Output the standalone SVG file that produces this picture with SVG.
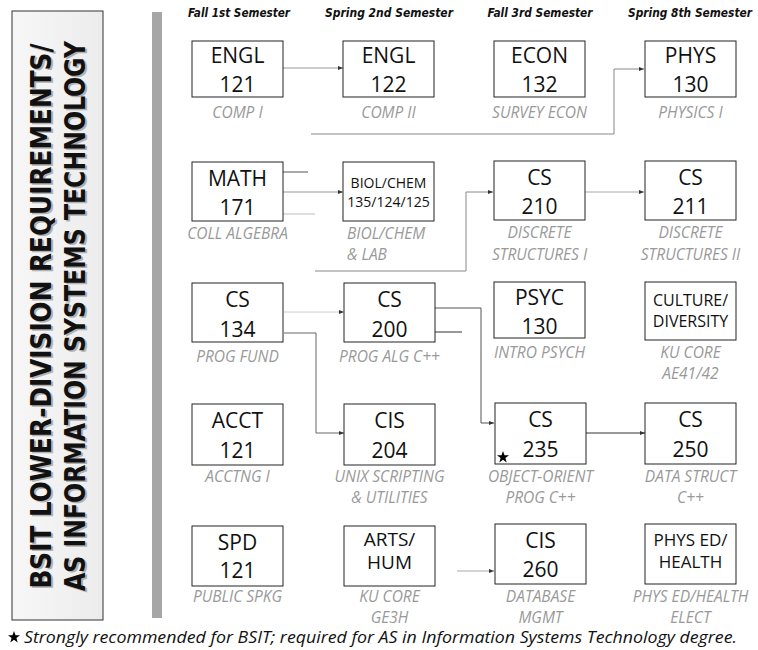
<svg xmlns="http://www.w3.org/2000/svg" width="758" height="650" viewBox="0 0 758 650">
<defs>
<linearGradient id="tg" x1="0" y1="0" x2="1" y2="0">
<stop offset="0" stop-color="#f7f7f7"/><stop offset="1" stop-color="#ececec"/>
</linearGradient>
<marker id="ar" markerWidth="5" markerHeight="4" refX="5" refY="2" orient="auto" markerUnits="userSpaceOnUse">
<path d="M0,0 L5,2 L0,4 Z" fill="#333"/>
</marker>
<style>
.bx{fill:#fff;stroke:#222;stroke-width:1}
.c{font-family:"Open Sans","Noto Sans","Liberation Sans",sans-serif;font-size:21px;fill:#111;text-anchor:middle}
.s{font-family:"Open Sans","Noto Sans","Liberation Sans",sans-serif;font-size:15.5px;font-style:italic;fill:#999;text-anchor:middle}
.h{font-family:"Liberation Sans Narrow","DejaVu Sans Condensed","Liberation Sans",sans-serif;font-size:13px;font-weight:bold;font-style:italic;fill:#111;text-anchor:middle}
.t{font-family:"Liberation Sans Narrow","DejaVu Sans Condensed","Liberation Sans",sans-serif;font-size:29px;font-weight:bold;text-anchor:middle}
.ln{fill:none;stroke-width:1}
</style>
</defs>
<rect width="758" height="650" fill="#fff"/>

<g id="title">
<rect x="12" y="11" width="91" height="609" fill="url(#tg)" stroke="#333" stroke-width="1"/>
<g transform="translate(51,316) rotate(-90)">
<text class="t" x="-1.5" y="2" fill="#888" opacity="0.6" textLength="545" lengthAdjust="spacingAndGlyphs">BSIT LOWER-DIVISION REQUIREMENTS/</text>
<text class="t" x="0" y="0" fill="#111" textLength="545" lengthAdjust="spacingAndGlyphs">BSIT LOWER-DIVISION REQUIREMENTS/</text>
</g>
<g transform="translate(85,316) rotate(-90)">
<text class="t" x="-1.5" y="2" fill="#888" opacity="0.6" textLength="550" lengthAdjust="spacingAndGlyphs">AS INFORMATION SYSTEMS TECHNOLOGY</text>
<text class="t" x="0" y="0" fill="#111" textLength="550" lengthAdjust="spacingAndGlyphs">AS INFORMATION SYSTEMS TECHNOLOGY</text>
</g>
</g>
<rect id="divider" x="152" y="12" width="10" height="606" fill="#a6a6a6"/>

<g id="headers">
<text class="h" x="239" y="17" textLength="102" lengthAdjust="spacingAndGlyphs">Fall 1st Semester</text>
<text class="h" x="389" y="17" textLength="128" lengthAdjust="spacingAndGlyphs">Spring 2nd Semester</text>
<text class="h" x="540" y="17" textLength="105" lengthAdjust="spacingAndGlyphs">Fall 3rd Semester</text>
<text class="h" x="690" y="17" textLength="124" lengthAdjust="spacingAndGlyphs">Spring 8th Semester</text>
</g>

<g id="connectors">
<path class="ln" stroke="#999" d="M283,68 H343" marker-end="url(#ar)"/>
<path class="ln" stroke="#888" d="M311,134 H614 V69 H644" marker-end="url(#ar)"/>
<path class="ln" stroke="#555" d="M283,172 H308"/>
<path class="ln" stroke="#999" d="M283,192 H343" marker-end="url(#ar)"/>
<path class="ln" stroke="#bbb" d="M283,214 H315"/>
<path class="ln" stroke="#888" d="M315,271 H466 V192 H493" marker-end="url(#ar)"/>
<path class="ln" stroke="#aaa" d="M584,192 H644" marker-end="url(#ar)"/>
<path class="ln" stroke="#ccc" d="M284,312 H344" marker-end="url(#ar)"/>
<path class="ln" stroke="#666" d="M284,333 H316 V433 H344" marker-end="url(#ar)"/>
<path class="ln" stroke="#555" d="M435,308 H481 V423 H494" marker-end="url(#ar)"/>
<path class="ln" stroke="#333" d="M435,332 H462"/>
<path class="ln" stroke="#333" d="M586,433 H645" marker-end="url(#ar)"/>
<path class="ln" stroke="#aaa" d="M457,571 H494" marker-end="url(#ar)"/>
</g>

<g id="engl121"><rect class="bx" x="192" y="41" width="91" height="56"/>
<text class="c" x="237.5" y="63">ENGL</text><text class="c" x="237.5" y="92">121</text>
<text class="s" x="237.5" y="118">COMP I</text></g>
<g id="engl122"><rect class="bx" x="343" y="41" width="91" height="56"/>
<text class="c" x="388.5" y="63">ENGL</text><text class="c" x="388.5" y="92">122</text>
<text class="s" x="388.5" y="118">COMP II</text></g>
<g id="econ132"><rect class="bx" x="494" y="41" width="91" height="56"/>
<text class="c" x="539.5" y="63">ECON</text><text class="c" x="539.5" y="92">132</text>
<text class="s" x="539.5" y="118">SURVEY ECON</text></g>
<g id="phys130"><rect class="bx" x="645" y="41" width="91" height="56"/>
<text class="c" x="690.5" y="63">PHYS</text><text class="c" x="690.5" y="92">130</text>
<text class="s" x="690.5" y="118">PHYSICS I</text></g>

<g id="math171"><rect class="bx" x="192" y="162" width="91" height="59"/>
<text class="c" x="237.5" y="186">MATH</text><text class="c" x="237.5" y="215">171</text>
<text class="s" x="237.5" y="239">COLL ALGEBRA</text></g>
<g id="biolchem"><rect class="bx" x="343" y="162" width="91" height="59"/>
<text class="c" x="388.5" y="188" style="font-size:14px">BIOL/CHEM</text><text class="c" x="388.5" y="207" style="font-size:14px">135/124/125</text>
<text class="s" x="347" y="239" style="text-anchor:start">BIOL/CHEM</text><text class="s" x="347" y="260" style="text-anchor:start">&amp; LAB</text></g>
<g id="cs210"><rect class="bx" x="494" y="161" width="91" height="59"/>
<text class="c" x="539.5" y="185">CS</text><text class="c" x="539.5" y="214">210</text>
<text class="s" x="539.5" y="238">DISCRETE</text><text class="s" x="539.5" y="260">STRUCTURES I</text></g>
<g id="cs211"><rect class="bx" x="645" y="161" width="91" height="59"/>
<text class="c" x="690.5" y="185">CS</text><text class="c" x="690.5" y="214">211</text>
<text class="s" x="690.5" y="238">DISCRETE</text><text class="s" x="690.5" y="260">STRUCTURES II</text></g>

<g id="cs134"><rect class="bx" x="192" y="283" width="91" height="59"/>
<text class="c" x="237.5" y="307">CS</text><text class="c" x="237.5" y="337">134</text>
<text class="s" x="237.5" y="362">PROG FUND</text></g>
<g id="cs200"><rect class="bx" x="344" y="283" width="91" height="59"/>
<text class="c" x="389.5" y="307">CS</text><text class="c" x="389.5" y="337">200</text>
<text class="s" x="389.5" y="362">PROG ALG C++</text></g>
<g id="psyc130"><rect class="bx" x="494" y="282" width="91" height="56"/>
<text class="c" x="539.5" y="305">PSYC</text><text class="c" x="539.5" y="334">130</text>
<text class="s" x="539.5" y="358">INTRO PSYCH</text></g>
<g id="culture"><rect class="bx" x="645" y="282" width="91" height="58"/>
<text class="c" x="690.5" y="306" style="font-size:16px">CULTURE/</text><text class="c" x="690.5" y="327" style="font-size:16px">DIVERSITY</text>
<text class="s" x="690.5" y="358">KU CORE</text><text class="s" x="690.5" y="379">AE41/42</text></g>

<g id="acct121"><rect class="bx" x="192" y="404" width="91" height="61"/>
<text class="c" x="237.5" y="428">ACCT</text><text class="c" x="237.5" y="458">121</text>
<text class="s" x="237.5" y="482">ACCTNG I</text></g>
<g id="cis204"><rect class="bx" x="344" y="404" width="91" height="61"/>
<text class="c" x="389.5" y="428">CIS</text><text class="c" x="389.5" y="458">204</text>
<text class="s" x="389.5" y="482">UNIX SCRIPTING</text><text class="s" x="389.5" y="503">&amp; UTILITIES</text></g>
<g id="cs235"><rect class="bx" x="495" y="403" width="91" height="61"/>
<text class="c" x="540.5" y="427">CS</text><text class="c" x="540.5" y="457">235</text>
<path d="M503,451 L504.5,455.3 L509,455.3 L505.4,458 L506.7,462.4 L503,459.7 L499.3,462.4 L500.6,458 L497,455.3 L501.5,455.3 Z" fill="#000"/>
<text class="s" x="540.5" y="482">OBJECT-ORIENT</text><text class="s" x="540.5" y="503">PROG C++</text></g>
<g id="cs250"><rect class="bx" x="645" y="403" width="91" height="61"/>
<text class="c" x="690.5" y="427">CS</text><text class="c" x="690.5" y="457">250</text>
<text class="s" x="690.5" y="482">DATA STRUCT</text><text class="s" x="690.5" y="503">C++</text></g>

<g id="spd121"><rect class="bx" x="192" y="526" width="91" height="60"/>
<text class="c" x="237.5" y="550">SPD</text><text class="c" x="237.5" y="578">121</text>
<text class="s" x="237.5" y="602">PUBLIC SPKG</text></g>
<g id="artshum"><rect class="bx" x="344" y="526" width="91" height="60"/>
<text class="c" x="389.5" y="546" style="font-size:19px">ARTS/</text><text class="c" x="389.5" y="569" style="font-size:19px">HUM</text>
<text class="s" x="389.5" y="602">KU CORE</text><text class="s" x="389.5" y="623">GE3H</text></g>
<g id="cis260"><rect class="bx" x="495" y="524" width="91" height="60"/>
<text class="c" x="540.5" y="548">CIS</text><text class="c" x="540.5" y="577">260</text>
<text class="s" x="540.5" y="602">DATABASE</text><text class="s" x="540.5" y="623">MGMT</text></g>
<g id="physed"><rect class="bx" x="645" y="524" width="91" height="60"/>
<text class="c" x="690.5" y="546" style="font-size:17px">PHYS ED/</text><text class="c" x="690.5" y="568" style="font-size:17px">HEALTH</text>
<text class="s" x="690.5" y="602">PHYS ED/HEALTH</text><text class="s" x="690.5" y="623">ELECT</text></g>

<g id="footer">
<path d="M14,631 L15.5,635.3 L20,635.3 L16.4,638 L17.7,642.4 L14,639.7 L10.3,642.4 L11.6,638 L8,635.3 L12.5,635.3 Z" fill="#000"/>
<text x="24" y="643" style="font-family:'Open Sans','Noto Sans','Liberation Sans',sans-serif;font-size:15.5px;font-style:italic;fill:#111" textLength="713" lengthAdjust="spacingAndGlyphs">Strongly recommended for BSIT; required for AS in Information Systems Technology degree.</text>
</g>
</svg>
